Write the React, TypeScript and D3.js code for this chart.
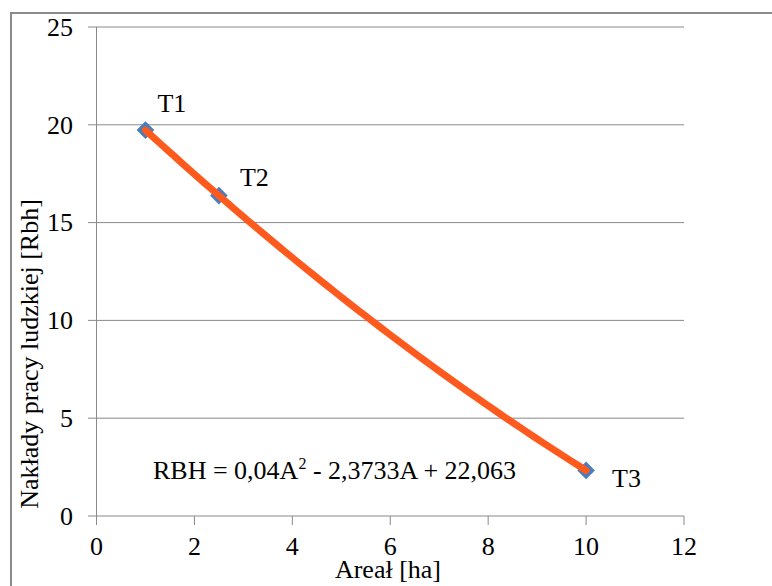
import React from "react";
import * as d3 from "d3";

const pointLabels = ["T1", "T2", "T3"];
const areaValues = [1, 2.5, 10];
const laborValues = [19.73, 16.38, 2.33];
const trendCoefficients = [0.04, -2.3733, 22.063]; // a*A^2 + b*A + c
const xTicks = [0, 2, 4, 6, 8, 10, 12];
const yTicks = [0, 5, 10, 15, 20, 25];
const xTitle = "Areał [ha]";
const yTitle = "Nakłady pracy ludzkiej [Rbh]";

const labelOffsets: [number, number][] = [
  [12, -18],
  [21, -10],
  [26, 17],
];

export default function App() {
  const W = 772;
  const H = 586;
  const x = d3.scaleLinear().domain([0, 12]).range([96.5, 684]);
  const y = d3.scaleLinear().domain([0, 25]).range([516, 27]);
  const grid = "#898989";
  const ts: React.CSSProperties = { fontFamily: "'Liberation Serif'", fontSize: 26 };

  const [a, b, c] = trendCoefficients;
  const xmin = d3.min(areaValues) as number;
  const xmax = d3.max(areaValues) as number;
  const samples = d3.range(0, 61).map((i) => xmin + ((xmax - xmin) * i) / 60);
  const trend = d3
    .line<number>()
    .x((v) => x(v))
    .y((v) => y(a * v * v + b * v + c));

  const diamond = d3.symbol().type(d3.symbolDiamond2).size(200)();

  return (
    <svg width={W} height={H} style={{ position: "absolute", left: 0, top: 0 }}>
      <rect x={0} y={0} width={W} height={H} fill="#fff" />
      <rect x={11} y={13} width={W + 20} height={H + 20} fill="none" stroke="#8a8a8a" strokeWidth={2} />
      {yTicks.map((t) => (
        <line key={"g" + t} x1={88} x2={684} y1={y(t)} y2={y(t)} stroke={grid} strokeWidth={1} />
      ))}
      <line x1={x(0)} x2={x(0)} y1={y(25)} y2={y(0)} stroke={grid} strokeWidth={1} />
      {xTicks.map((t) => (
        <line key={"xt" + t} x1={x(t)} x2={x(t)} y1={y(0)} y2={y(0) + 9} stroke={grid} strokeWidth={1} />
      ))}
      {yTicks.map((t) => (
        <text key={"yl" + t} x={73} y={y(t)} dy="0.34em" textAnchor="end" style={ts} fill="#000">
          {String(t)}
        </text>
      ))}
      {xTicks.map((t) => (
        <text key={"xl" + t} x={x(t)} y={555} textAnchor="middle" style={ts} fill="#000">
          {String(t)}
        </text>
      ))}
      <text x={388} y={578} textAnchor="middle" style={ts} fill="#000">
        {xTitle}
      </text>
      <text transform={`translate(38,354) rotate(-90)`} textAnchor="middle" style={ts} fill="#000">
        {yTitle}
      </text>
      {areaValues.map((v, i) => (
        <path
          key={"p" + i}
          d={diamond || ""}
          transform={`translate(${x(v)},${y(laborValues[i])})`}
          fill="#4A7EBB"
        />
      ))}
      <path
        d={trend(samples) || ""}
        fill="none"
        stroke="#FF5A1E"
        strokeWidth={7}
        strokeLinecap="round"
        strokeLinejoin="round"
      />
      {areaValues.map((v, i) => (
        <text
          key={"l" + i}
          x={x(v) + labelOffsets[i][0]}
          y={y(laborValues[i]) + labelOffsets[i][1]}
          style={ts}
          fill="#000"
        >
          {pointLabels[i]}
        </text>
      ))}
      <text x={153} y={479} style={ts} fill="#000">
        RBH = 0,04A
        <tspan style={{ fontSize: 16 }} dy={-10}>2</tspan>
        <tspan dy={10}> - 2,3733A + 22,063</tspan>
      </text>
    </svg>
  );
}
